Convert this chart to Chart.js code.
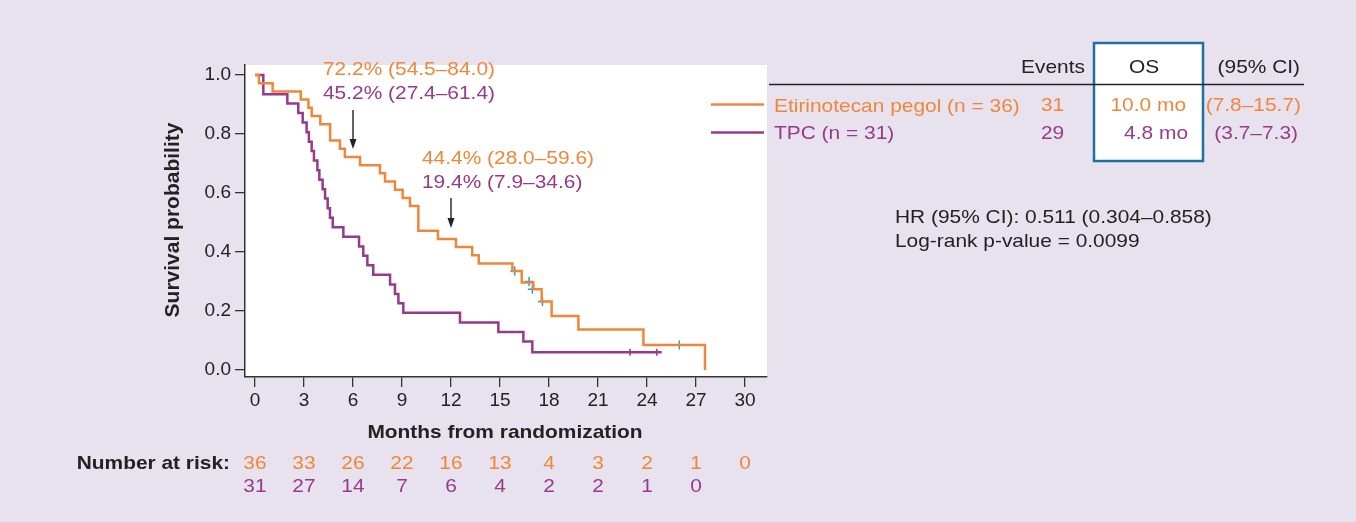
<!DOCTYPE html>
<html>
<head>
<meta charset="utf-8">
<script src="https://cdn.jsdelivr.net/npm/chart.js@4/dist/chart.umd.min.js"></script>
<style>
  body { margin: 0; background: #e8e2ef; }
  #wrap { width: 1356px; height: 522px; }
</style>
</head>
<body>
<div id="wrap"><canvas id="km" width="1356" height="522"></canvas></div>
<script>
// Kaplan-Meier step points (months, survival)
const etiTimes = [0, 0.24, 1.08, 2.8, 3.27, 3.47, 4.0, 4.6, 5.2, 5.5, 6.43, 7.65, 7.96, 8.57, 9.04, 9.49, 10.0,
    11.2, 12.3, 13.3, 13.7, 15.76, 16.33, 17.04, 17.55, 18.16, 19.8, 23.78, 27.55];
const etiSurv = [1.0, 0.972, 0.944, 0.917, 0.889, 0.861, 0.833, 0.778, 0.75, 0.722, 0.694, 0.667, 0.639, 0.611, 0.583, 0.556, 0.472,
    0.444, 0.417, 0.389, 0.361, 0.336, 0.297, 0.274, 0.232, 0.183, 0.137, 0.085, 0.0];
const tpcTimes = [0, 0.51, 1.98, 2.65, 2.92, 3.16, 3.3, 3.47, 3.61, 3.82, 3.94, 4.14, 4.29, 4.45, 4.59, 4.76, 5.41,
    6.37, 6.63, 6.88, 7.24, 8.27, 8.57, 8.78, 9.08, 12.55, 14.9, 16.43, 16.98, 24.9];
const tpcSurv = [1.0, 0.935, 0.903, 0.871, 0.839, 0.806, 0.774, 0.742, 0.71, 0.677, 0.645, 0.613, 0.581, 0.548, 0.516, 0.484, 0.452,
    0.419, 0.387, 0.355, 0.323, 0.29, 0.258, 0.226, 0.194, 0.161, 0.129, 0.097, 0.06, 0.06];

const etiCensorT = [15.9, 16.78, 16.98, 17.6, 25.98];
const etiCensorS = [0.336, 0.3, 0.274, 0.232, 0.085];
const tpcCensorT = [22.96, 24.6];
const tpcCensorS = [0.06, 0.06];

const xTicks = [0, 3, 6, 9, 12, 15, 18, 21, 24, 27, 30];
const yTicks = [0, 0.2, 0.4, 0.6, 0.8, 1.0];
const etiAtRisk = [36, 33, 26, 22, 16, 13, 4, 3, 2, 1, 0];
const tpcAtRisk = [31, 27, 14, 7, 6, 4, 2, 2, 1, 0];

const ORANGE = "#ee873b";
const PURPLE = "#963a8b";
const TEAL = "#2aa0b4";
const INK = "#222222";
const FONT = "'Liberation Sans', Arial, Helvetica, sans-serif";

function pts(xs, ys) {
  return xs.map((x, i) => ({ x: x, y: ys[i] }));
}

// text is a bit wider than Arial in the figure, so stretch it a little
function txt(ctx, s, x, y, color, align, size, bold) {
  ctx.save();
  ctx.translate(x, y);
  ctx.scale(1.1, 1);
  ctx.font = (bold ? "bold " : "") + size + "px " + FONT;
  ctx.fillStyle = color;
  ctx.textAlign = align;
  ctx.textBaseline = "middle";
  ctx.fillText(s, 0, 0);
  ctx.restore();
}

function arrow(ctx, x, y1, y2) {
  ctx.save();
  ctx.strokeStyle = INK;
  ctx.fillStyle = INK;
  ctx.lineWidth = 1.4;
  ctx.beginPath();
  ctx.moveTo(x, y1);
  ctx.lineTo(x, y2 - 8);
  ctx.stroke();
  ctx.beginPath();
  ctx.moveTo(x - 3.5, y2 - 10);
  ctx.lineTo(x + 3.5, y2 - 10);
  ctx.lineTo(x, y2);
  ctx.closePath();
  ctx.fill();
  ctx.restore();
}

const panel = {
  id: "panel",
  beforeDraw(chart) {
    const { ctx, chartArea: a } = chart;
    ctx.save();
    ctx.fillStyle = "#e8e2ef";
    ctx.fillRect(0, 0, chart.width, chart.height);
    ctx.fillStyle = "#ffffff";
    ctx.fillRect(a.left, a.top, a.right - a.left, a.bottom - a.top);
    ctx.restore();
  },
  afterDraw(chart) {
    const ctx = chart.ctx;
    const xs = chart.scales.x;
    const ys = chart.scales.y;

    // axis titles
    ctx.save();
    ctx.translate(173, 220);
    ctx.rotate(-Math.PI / 2);
    ctx.font = "bold 21px " + FONT;
    ctx.fillStyle = INK;
    ctx.textAlign = "center";
    ctx.textBaseline = "middle";
    ctx.fillText("Survival probability", 0, 0);
    ctx.restore();
    txt(ctx, "Months from randomization", 505, 433, INK, "center", 19, true);

    // landmark annotations
    txt(ctx, "72.2% (54.5\u201384.0)", 323, 70, ORANGE, "left", 19);
    txt(ctx, "45.2% (27.4\u201361.4)", 323, 94, PURPLE, "left", 19);
    arrow(ctx, xs.getPixelForValue(6), 110, 149);
    txt(ctx, "44.4% (28.0\u201359.6)", 422, 159, ORANGE, "left", 19);
    txt(ctx, "19.4% (7.9\u201334.6)", 422, 183, PURPLE, "left", 19);
    arrow(ctx, xs.getPixelForValue(12), 198, 228);

    // legend table
    ctx.save();
    ctx.fillStyle = "#ffffff";
    ctx.fillRect(1094, 43, 109, 118);
    ctx.lineWidth = 2.5;
    ctx.strokeStyle = "#1f6fa3";
    ctx.strokeRect(1094, 43, 109, 118);
    ctx.strokeStyle = INK;
    ctx.lineWidth = 1.5;
    ctx.beginPath();
    ctx.moveTo(769, 84.5);
    ctx.lineTo(1304, 84.5);
    ctx.stroke();
    ctx.lineWidth = 2.5;
    ctx.strokeStyle = ORANGE;
    ctx.beginPath();
    ctx.moveTo(711, 104.5);
    ctx.lineTo(764, 104.5);
    ctx.stroke();
    ctx.strokeStyle = PURPLE;
    ctx.beginPath();
    ctx.moveTo(711, 132.5);
    ctx.lineTo(764, 132.5);
    ctx.stroke();
    ctx.restore();

    txt(ctx, "Events", 1085, 68, INK, "right", 19);
    txt(ctx, "OS", 1144, 68, INK, "center", 19);
    txt(ctx, "(95% CI)", 1300, 68, INK, "right", 19);
    txt(ctx, "Etirinotecan pegol (n = 36)", 774, 107, ORANGE, "left", 19);
    txt(ctx, "TPC (n = 31)", 774, 134, PURPLE, "left", 19);
    txt(ctx, "31", 1041, 106, ORANGE, "left", 19);
    txt(ctx, "29", 1041, 134, PURPLE, "left", 19);
    txt(ctx, "10.0 mo", 1186, 106, ORANGE, "right", 19);
    txt(ctx, "4.8 mo", 1188, 134, PURPLE, "right", 19);
    txt(ctx, "(7.8\u201315.7)", 1301, 106, ORANGE, "right", 19);
    txt(ctx, "(3.7\u20137.3)", 1298, 134, PURPLE, "right", 19);

    txt(ctx, "HR (95% CI): 0.511 (0.304\u20130.858)", 895, 218, INK, "left", 19);
    txt(ctx, "Log-rank p-value = 0.0099", 895, 242, INK, "left", 19);

    // number at risk under each x tick
    txt(ctx, "Number at risk:", 230, 464, INK, "right", 19, true);
    etiAtRisk.forEach((n, i) => {
      txt(ctx, String(n), xs.getPixelForValue(xTicks[i]), 464, ORANGE, "center", 19);
    });
    tpcAtRisk.forEach((n, i) => {
      txt(ctx, String(n), xs.getPixelForValue(xTicks[i]), 487, PURPLE, "center", 19);
    });
  }
};

const config = {
  type: "line",
  data: {
    datasets: [
      {
        label: "Etirinotecan pegol (n = 36)",
        data: pts(etiTimes, etiSurv),
        borderColor: ORANGE,
        borderWidth: 2.5,
        stepped: "before",
        pointRadius: 0,
        fill: false
      },
      {
        label: "TPC (n = 31)",
        data: pts(tpcTimes, tpcSurv),
        borderColor: PURPLE,
        borderWidth: 2.5,
        stepped: "before",
        pointRadius: 0,
        fill: false
      },
      {
        label: "censored eti",
        data: pts(etiCensorT, etiCensorS),
        showLine: false,
        pointStyle: "cross",
        pointRadius: 4.5,
        borderColor: TEAL,
        borderWidth: 1.5
      },
      {
        label: "censored tpc",
        data: pts(tpcCensorT, tpcCensorS),
        showLine: false,
        pointStyle: "line",
        rotation: 90,
        pointRadius: 3.5,
        borderColor: PURPLE,
        borderWidth: 1.5
      }
    ]
  },
  options: {
    responsive: false,
    animation: false,
    events: [],
    layout: { padding: { top: 65, right: 589, bottom: 0, left: 0 } },
    plugins: {
      legend: { display: false },
      tooltip: { enabled: false }
    },
    scales: {
      x: {
        type: "linear",
        min: -0.612,
        max: 31.347,
        afterFit: s => { s.height = 145; },
        afterBuildTicks: s => { s.ticks = xTicks.map(v => ({ value: v })); },
        grid: { drawOnChartArea: false, drawTicks: true, tickLength: 10, color: "#333", lineWidth: 1.3 },
        border: { display: true, color: "#333", width: 1.5 },
        ticks: { padding: 2, color: INK, font: { family: FONT, size: 19 }, maxRotation: 0 }
      },
      y: {
        type: "linear",
        min: -0.0237,
        max: 1.0339,
        afterFit: s => { s.width = 245; },
        afterBuildTicks: s => { s.ticks = yTicks.map(v => ({ value: v })); },
        grid: { drawOnChartArea: false, drawTicks: true, tickLength: 10, color: "#333", lineWidth: 1.3 },
        border: { display: true, color: "#333", width: 1.5 },
        ticks: {
          padding: 4,
          color: INK,
          font: { family: FONT, size: 19 },
          callback: v => v.toFixed(1)
        }
      }
    }
  },
  plugins: [panel]
};

const myChart = new Chart(document.getElementById("km"), config);
</script>
</body>
</html>
